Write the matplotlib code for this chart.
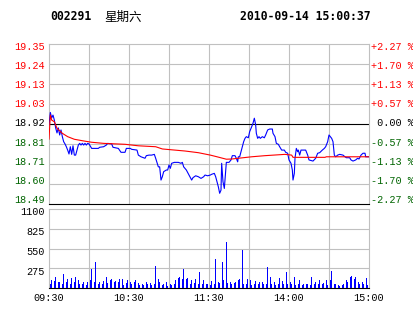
import matplotlib
matplotlib.use('Agg')
import matplotlib.pyplot as plt

# 分时数据 (minutes since 09:30, lunch break removed)
price_t = [0, 1, 2, 3, 4, 5, 6, 7, 8, 9, 10, 11, 12, 13, 14, 15, 16, 17, 18, 19,
           20, 21, 22, 23, 24, 25, 26, 27, 28, 29, 30, 32, 37, 38, 41, 43, 44, 47, 48, 52,
           54, 57, 58, 61, 62, 66, 67, 69, 72, 73, 75, 77, 79, 80, 82, 83, 84, 85, 86, 88,
           89, 90, 91, 92, 94, 97, 99, 100, 101, 103, 105, 107, 108, 110, 112, 114, 116, 117, 119, 121,
           122, 124, 125, 126, 127, 128, 129, 129.5, 130.5, 131.5, 132.5, 133, 135, 136.5, 137.5, 139.5, 140.5, 141.5, 142, 143,
           144, 145, 146, 147, 148, 149.5, 150.5, 152, 153, 154, 155, 155.5, 156.5, 157.5, 158.5, 160, 161.5, 162.5, 164, 165.5,
           167.5, 168, 169.5, 170.5, 172, 173, 174.5, 176.5, 177.5, 179, 180, 181.5, 182.5, 183, 184, 184.5, 185.5, 186.5, 187, 188,
           189, 192.5, 194, 195, 198, 200, 201.5, 203, 205, 206.5, 207.5, 209, 210, 211, 212, 213, 214, 215, 216.5, 218,
           220.5, 222, 223, 225.5, 226.5, 228, 230, 231.5, 232.5, 234, 235.5, 237, 237.5, 239.5, 240]
price_v = [18.915, 18.982, 18.952, 18.968, 18.941, 18.899, 18.872, 18.899, 18.861, 18.888,
           18.852, 18.825, 18.813, 18.798, 18.780, 18.759, 18.798, 18.757, 18.803, 18.753,
           18.753, 18.780, 18.807, 18.816, 18.807, 18.816, 18.807, 18.816, 18.807, 18.816,
           18.813, 18.789, 18.789, 18.795, 18.798, 18.807, 18.816, 18.813, 18.795, 18.789,
           18.768, 18.768, 18.789, 18.789, 18.784, 18.780, 18.753, 18.744, 18.736, 18.750,
           18.753, 18.753, 18.757, 18.736, 18.690, 18.690, 18.619, 18.637, 18.664, 18.673,
           18.673, 18.700, 18.682, 18.709, 18.714, 18.714, 18.709, 18.714, 18.690, 18.673,
           18.646, 18.619, 18.632, 18.642, 18.637, 18.628, 18.637, 18.646, 18.642, 18.646,
           18.650, 18.655, 18.637, 18.610, 18.583, 18.548, 18.565, 18.709, 18.610, 18.574,
           18.664, 18.714, 18.714, 18.727, 18.750, 18.750, 18.736, 18.717, 18.744, 18.744,
           18.771, 18.798, 18.825, 18.843, 18.852, 18.846, 18.879, 18.905, 18.924, 18.951,
           18.915, 18.870, 18.843, 18.852, 18.843, 18.852, 18.846, 18.861, 18.888, 18.893,
           18.893, 18.870, 18.852, 18.816, 18.811, 18.798, 18.780, 18.780, 18.768, 18.763,
           18.727, 18.709, 18.673, 18.619, 18.655, 18.736, 18.789, 18.771, 18.780, 18.753,
           18.780, 18.780, 18.753, 18.727, 18.721, 18.736, 18.763, 18.766, 18.780, 18.789,
           18.798, 18.825, 18.861, 18.852, 18.843, 18.825, 18.753, 18.744, 18.753, 18.757,
           18.753, 18.744, 18.739, 18.739, 18.727, 18.721, 18.727, 18.736, 18.732, 18.753,
           18.763, 18.763, 18.744, 18.744, 18.744]

avg_t = [0, 1, 2, 4, 6, 10, 14, 19, 26, 32, 41, 57, 67, 80, 85, 102, 112, 121, 126, 133,
         137, 142, 152, 162, 177, 182, 183, 207, 208, 240]
avg_v = [18.839, 18.968, 18.941, 18.932, 18.897, 18.870, 18.852, 18.838, 18.829, 18.822,
         18.816, 18.811, 18.803, 18.798, 18.786, 18.775, 18.766, 18.753, 18.744, 18.731,
         18.732, 18.736, 18.744, 18.750, 18.757, 18.753, 18.741, 18.741, 18.744, 18.744]

volume = [40, 60, 110, 70, 100, 150, 140, 90, 80, 120,
          60, 195, 110, 80, 120, 130, 60, 140, 100, 90,
          160, 70, 110, 60, 130, 50, 80, 120, 40, 90,
          70, 110, 265, 60, 80, 365, 120, 50, 90, 140,
          60, 100, 80, 150, 70, 40, 110, 130, 60, 90,
          100, 50, 80, 120, 60, 130, 40, 90, 70, 110,
          130, 80, 60, 40, 90, 110, 50, 70, 40, 30,
          60, 40, 50, 80, 60, 100, 70, 40, 60, 50,
          305, 60, 120, 80, 210, 40, 60, 50, 90, 30,
          60, 50, 40, 80, 60, 110, 50, 140, 150, 80,
          130, 265, 60, 120, 140, 80, 60, 110, 40, 70,
          130, 60, 50, 225, 80, 60, 110, 170, 50, 60,
          80, 40, 100, 70, 60, 400, 120, 80, 70, 200,
          365, 110, 305, 640, 70, 120, 80, 60, 100, 70,
          90, 60, 110, 120, 150, 530, 60, 80, 60, 120,
          335, 110, 40, 130, 60, 100, 120, 60, 80, 130,
          90, 60, 110, 60, 295, 90, 150, 60, 30, 80,
          40, 90, 60, 140, 40, 100, 60, 70, 225, 50,
          515, 80, 60, 1015, 150, 40, 165, 60, 110, 70,
          40, 60, 30, 60, 50, 140, 40, 160, 60, 50,
          80, 40, 60, 110, 40, 60, 70, 60, 110, 40,
          60, 110, 235, 80, 50, 60, 70, 40, 30, 60,
          40, 60, 80, 110, 90, 130, 150, 170, 180, 120,
          160, 110, 90, 60, 40, 80, 60, 70, 135, 40,
          100]

prev_close = 18.92
price_labels = ['19.35', '19.24', '19.13', '19.03', '18.92', '18.81', '18.71', '18.60', '18.49']
pct_labels = ['+2.27 %', '+1.70 %', '+1.13 %', '+0.57 %', ' 0.00 %', '-0.57 %', '-1.13 %', '-1.70 %', '-2.27 %']
vol_ticks = [275, 550, 825, 1100]
time_ticks = [0, 60, 120, 180, 240]
time_labels = ['09:30', '10:30', '11:30', '14:00', '15:00']

RED = '#ff0000'
GREEN = '#006400'
GRID = '#c0c0c0'
MONO = 'Liberation Mono'

W, H = 414, 314
fig = plt.figure(figsize=(W / 100, H / 100), dpi=100)
fig.patch.set_facecolor('white')

def fx(px):
    return px / W

def fy(py):
    return 1 - py / H

left, right = 49, 369
p_top, p_bot = 44, 204
v_top, v_bot = 209, 288
ax = fig.add_axes([fx(left), fy(p_bot), fx(right - left), (p_bot - p_top) / H])
axv = fig.add_axes([fx(left), fy(v_bot), fx(right - left), (v_bot - v_top) / H])

span = prev_close * 0.0227
levels = [prev_close + span * (4 - i) / 4 for i in range(9)]

# 网格
for a in (ax, axv):
    a.set_xlim(0, 240)
    for s in a.spines.values():
        s.set_color(GRID)
        s.set_linewidth(0.8)
    a.set_xticks([])
    a.set_yticks([])
    for t in range(30, 240, 30):
        a.axvline(t, color=GRID, lw=0.8, zorder=0)

ax.set_ylim(levels[-1], levels[0])
for i, lv in enumerate(levels):
    if 0 < i < 8:
        ax.axhline(lv, color='black' if i == 4 else GRID, lw=0.8, zorder=0)
ax.spines['bottom'].set_color('black')

axv.set_ylim(0, 1100)
for v in vol_ticks[:-1]:
    axv.axhline(v, color=GRID, lw=0.8, zorder=0)
axv.spines['bottom'].set_color('black')

# 价格线 + 均价线
ax.plot(price_t, price_v, color='#0000ff', lw=0.8, zorder=3)
ax.plot(avg_t, avg_v, color=RED, lw=0.8, zorder=4)

# 成交量
axv.bar(range(len(volume)), volume, width=0.7, color='#0000ff', linewidth=0, zorder=3)

# 左右刻度文字
for i, lab in enumerate(price_labels):
    c = RED if i < 4 else ('black' if i == 4 else GREEN)
    ty = fy(46.5 + i * 19.2)
    fig.text(fx(44.5), ty, lab, ha='right', va='center', fontsize=7.3, family=MONO, color=c)
    fig.text(fx(371.5), ty, pct_labels[i], ha='left', va='center', fontsize=7.3, family=MONO, color=c)

for v in vol_ticks:
    py = v_top + (1100 - v) / 1100 * (v_bot - v_top) + 3.3
    fig.text(fx(44.5), fy(py), str(v), ha='right', va='center', fontsize=7.3, family=MONO, color='black')

for t, lab in zip(time_ticks, time_labels):
    axv.text(t, -0.13, lab, transform=axv.get_xaxis_transform(), ha='center', va='center',
             fontsize=7.3, family=MONO, color='black')

# 标题
fig.text(fx(50), fy(17), '002291', ha='left', va='center', fontsize=8.3,
         family='DejaVu Sans Mono', weight='bold')
fig.text(fx(104), fy(17), '星期六', ha='left', va='center', fontsize=9,
         family=['Noto Sans CJK SC', 'DejaVu Sans'])
fig.text(fx(371), fy(17), '2010-09-14 15:00:37', ha='right', va='center', fontsize=8.3,
         family='DejaVu Sans Mono', weight='bold')

fig.savefig('out.png', dpi=100)
plt.close(fig)
